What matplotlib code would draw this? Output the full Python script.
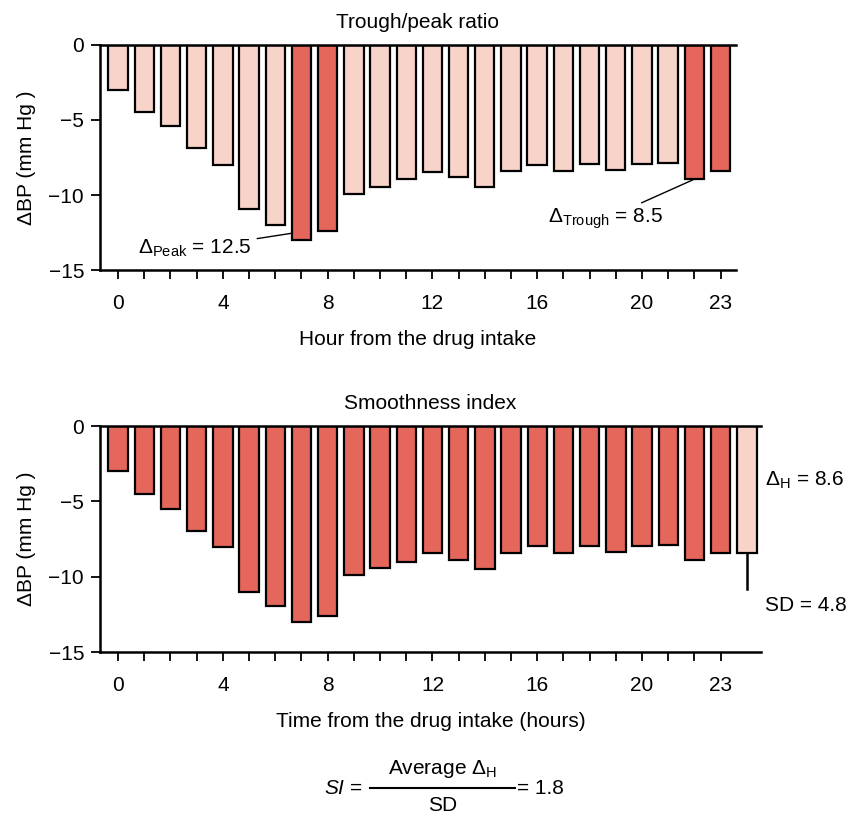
import matplotlib
matplotlib.use("Agg")
import matplotlib.pyplot as plt
from matplotlib.lines import Line2D

plt.rcParams['font.family'] = ['Liberation Sans', 'DejaVu Sans']
plt.rcParams['mathtext.fontset'] = 'custom'
plt.rcParams['mathtext.rm'] = 'Liberation Sans'
plt.rcParams['mathtext.it'] = 'Liberation Sans:italic'
plt.rcParams['axes.unicode_minus'] = False

# data (mm Hg change per hour after intake)
hours = list(range(24))
trough_peak_bp = [-3.0, -4.5, -5.4, -6.9, -8.0, -10.9, -12.0, -13.0, -12.4, -9.9,
                  -9.45, -8.9, -8.45, -8.8, -9.45, -8.4, -8.0, -8.4, -7.95, -8.35,
                  -7.95, -7.9, -8.9, -8.4]
smooth_bp = [-3.0, -4.5, -5.5, -6.95, -8.0, -11.0, -11.95, -13.0, -12.6, -9.9,
             -9.45, -9.0, -8.4, -8.9, -9.5, -8.4, -7.95, -8.4, -7.95, -8.35,
             -7.95, -7.9, -8.9, -8.4]
avg_hour = 24
avg_bp = -8.4
avg_sd_end = -10.8
peak_hours = [7, 8]
trough_hours = [22, 23]
tick_hours = [0, 4, 8, 12, 16, 20, 23]

dark = '#E5675B'
light = '#F8D3CA'
fs = 15


def style_axis(ax, xmax, xlabel, title):
    ax.set_ylim(-15, 0)
    ax.set_xlim(-0.69, xmax)
    ax.spines['right'].set_visible(False)
    for s in ['left', 'bottom', 'top']:
        ax.spines[s].set_linewidth(1.8)
    ax.set_yticks([0, -5, -10, -15])
    ax.set_yticklabels(['0', '\u22125', '\u221210', '\u221215'])
    ax.set_xticks(hours)
    ax.set_xticklabels([str(h) if h in tick_hours else '' for h in hours])
    ax.tick_params(axis='both', direction='out', length=6.5, width=1.3,
                   labelsize=fs)
    ax.tick_params(axis='x', top=False, pad=11)
    ax.tick_params(axis='y', pad=5)
    ax.set_ylabel('\u0394BP (mm Hg )', fontsize=fs, labelpad=9)
    ax.set_xlabel(xlabel, fontsize=fs, labelpad=12)
    ax.set_title(title, fontsize=fs, pad=12)


fig = plt.figure(figsize=(8.59, 8.15), dpi=100)

ax1 = fig.add_axes([0.1164, 0.6687, 0.7404, 0.2761])
colors1 = [dark if h in peak_hours + trough_hours else light for h in hours]
ax1.bar(hours, trough_peak_bp, width=0.74, color=colors1, edgecolor='black',
        linewidth=1.6, zorder=2)
style_axis(ax1, 23.59, 'Hour from the drug intake', 'Trough/peak ratio')
ax1.annotate('$\\Delta_{\\mathrm{Peak}}$ = 12.5', xy=(6.63, -12.55),
             xytext=(5.1, -13.55), ha='right', va='center', fontsize=fs,
             arrowprops=dict(arrowstyle='-', color='black', lw=1,
                             shrinkA=2, shrinkB=0))
ax1.annotate('$\\Delta_{\\mathrm{Trough}}$ = 8.5', xy=(22.02, trough_peak_bp[22] - 0.03),
             xytext=(20.8, -11.6), ha='right', va='center', fontsize=fs,
             arrowprops=dict(arrowstyle='-', color='black', lw=1,
                             shrinkA=2, shrinkB=0))

ax2 = fig.add_axes([0.1164, 0.2, 0.7695, 0.2773])
ax2.bar(hours, smooth_bp, width=0.74, color=dark, edgecolor='black',
        linewidth=1.6, zorder=2)
ax2.bar([avg_hour], [avg_bp], width=0.74, color=light, edgecolor='black',
        linewidth=1.6, zorder=2)
ax2.plot([avg_hour, avg_hour], [avg_bp, avg_sd_end], color='black', lw=1.8)
style_axis(ax2, 24.54, 'Time from the drug intake (hours)', 'Smoothness index')
ax2.text(1.006, 0.76, '$\\Delta_{\\mathrm{H}}$ = 8.6', transform=ax2.transAxes,
         fontsize=fs, ha='left', va='center')
ax2.text(1.006, 0.204, 'SD = 4.8', transform=ax2.transAxes,
         fontsize=fs, ha='left', va='center')

# smoothness index formula
fy = 0.033
fig.text(0.4226, fy, '$SI$ =', fontsize=fs, ha='right', va='center')
fig.text(0.515, fy + 0.024, 'Average $\\Delta_{\\mathrm{H}}$', fontsize=fs,
         ha='center', va='center')
fig.text(0.515, fy - 0.021, 'SD', fontsize=fs, ha='center', va='center')
fig.add_artist(Line2D([0.4307, 0.5995], [fy, fy], color='black', lw=1.5,
                      transform=fig.transFigure))
fig.text(0.6015, fy, '= 1.8', fontsize=fs, ha='left', va='center')

fig.savefig('out.png', dpi=100)
